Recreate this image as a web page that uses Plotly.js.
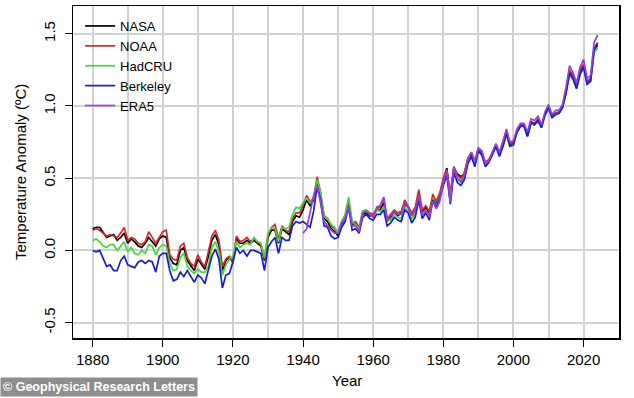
<!DOCTYPE html>
<html><head><meta charset="utf-8">
<script src="https://cdn.plot.ly/plotly-3.0.1.min.js"></script>
<style>html,body{margin:0;padding:0;background:#fff}#chart{width:634px;height:398px}</style>
</head><body><div id="chart"></div>
<script>
const startYear = 1880;
const era5StartYear = 1940;

const nasa = [
 0.15,0.16,0.16,0.12,0.09,0.10,0.11,0.07,0.09,0.12,
 0.05,0.08,0.06,0.03,0.02,0.05,0.09,0.06,0.03,0.08,
 0.10,0.09,-0.05,-0.09,-0.10,0.00,0.02,-0.07,-0.11,-0.14,
 -0.06,-0.10,-0.13,-0.04,0.07,0.11,0.04,-0.14,-0.07,-0.05,
 -0.08,0.08,0.05,0.05,0.07,0.05,0.07,0.05,0.03,-0.07,
 0.09,0.14,0.14,0.05,0.15,0.13,0.11,0.20,0.24,0.23,
 0.28,0.35,0.31,0.35,0.48,0.37,0.22,0.20,0.15,0.13,
 0.10,0.18,0.23,0.33,0.18,0.19,0.15,0.25,0.26,0.24,
 0.24,0.28,0.28,0.33,0.21,0.23,0.27,0.24,0.26,0.32,
 0.30,0.24,0.28,0.38,0.27,0.30,0.26,0.36,0.32,0.38,
 0.49,0.57,0.35,0.57,0.53,0.51,0.53,0.63,0.67,0.61,
 0.70,0.67,0.60,0.62,0.67,0.72,0.67,0.73,0.81,0.73,
 0.75,0.82,0.86,0.86,0.79,0.88,0.87,0.91,0.86,0.94,
 0.99,0.93,0.95,0.95,0.99,1.10,1.24,1.21,1.13,1.24,
 1.28,1.16,1.18,1.39,1.42
];

const noaa = [
 0.14,0.15,0.14,0.12,0.10,0.11,0.10,0.09,0.12,0.16,
 0.07,0.09,0.08,0.05,0.04,0.06,0.13,0.09,0.05,0.09,
 0.13,0.14,-0.03,-0.06,-0.07,0.03,0.05,-0.05,-0.09,-0.11,
 -0.03,-0.08,-0.11,-0.01,0.10,0.14,0.07,-0.11,-0.06,-0.04,
 -0.09,0.10,0.06,0.07,0.09,0.06,0.08,0.06,0.04,-0.06,
 0.10,0.16,0.18,0.08,0.17,0.14,0.13,0.22,0.26,0.26,
 0.31,0.38,0.34,0.36,0.51,0.40,0.24,0.22,0.17,0.15,
 0.12,0.20,0.24,0.33,0.19,0.20,0.16,0.27,0.28,0.26,
 0.25,0.29,0.30,0.36,0.22,0.25,0.28,0.26,0.27,0.35,
 0.31,0.26,0.30,0.42,0.28,0.31,0.27,0.39,0.34,0.40,
 0.50,0.56,0.40,0.58,0.52,0.50,0.54,0.64,0.68,0.62,
 0.71,0.68,0.61,0.63,0.68,0.73,0.68,0.75,0.83,0.74,
 0.75,0.83,0.87,0.87,0.81,0.89,0.88,0.91,0.86,0.94,
 0.99,0.92,0.95,0.96,1.00,1.11,1.25,1.21,1.14,1.25,
 1.29,1.17,1.19,1.40,1.44
];

const hadcru = [
 0.07,0.08,0.06,0.03,0.02,0.04,0.04,0.00,0.03,0.06,
 -0.01,0.02,-0.02,-0.03,0.00,-0.02,0.04,0.03,-0.03,0.02,
 0.04,0.03,-0.09,-0.14,-0.13,-0.05,-0.02,-0.11,-0.14,-0.16,
 -0.13,-0.15,-0.15,-0.11,0.02,0.06,-0.01,-0.17,-0.10,-0.06,
 -0.04,0.06,0.02,0.04,0.05,0.04,0.09,0.06,0.05,-0.05,
 0.12,0.16,0.15,0.06,0.16,0.15,0.16,0.25,0.30,0.29,
 0.33,0.36,0.33,0.36,0.49,0.40,0.24,0.22,0.18,0.16,
 0.12,0.20,0.25,0.37,0.20,0.18,0.15,0.27,0.28,0.25,
 0.23,0.28,0.27,0.30,0.20,0.21,0.25,0.23,0.22,0.30,
 0.27,0.22,0.25,0.36,0.24,0.27,0.23,0.36,0.31,0.37,
 0.46,0.52,0.37,0.53,0.49,0.47,0.50,0.61,0.65,0.60,
 0.69,0.66,0.59,0.61,0.66,0.72,0.66,0.72,0.80,0.72,
 0.73,0.82,0.86,0.86,0.80,0.88,0.87,0.89,0.85,0.93,
 0.98,0.92,0.94,0.95,0.99,1.09,1.22,1.18,1.12,1.22,
 1.26,1.15,1.17,1.37,1.40
];

const berkeley = [
 0.00,-0.01,0.00,-0.05,-0.11,-0.10,-0.14,-0.14,-0.07,-0.04,
 -0.10,-0.11,-0.12,-0.08,-0.07,-0.09,-0.07,-0.08,-0.15,-0.04,
 -0.02,-0.02,-0.14,-0.21,-0.20,-0.15,-0.18,-0.14,-0.18,-0.22,
 -0.17,-0.19,-0.23,-0.14,-0.04,0.01,-0.06,-0.26,-0.17,-0.16,
 -0.08,0.02,-0.02,0.00,-0.04,0.00,0.00,-0.01,-0.02,-0.14,
 0.02,0.06,0.09,-0.02,0.09,0.07,0.07,0.17,0.20,0.19,
 0.20,0.18,0.16,0.27,0.44,0.35,0.17,0.16,0.10,0.08,
 0.09,0.16,0.20,0.30,0.14,0.15,0.12,0.23,0.25,0.22,
 0.21,0.25,0.25,0.28,0.17,0.19,0.23,0.21,0.20,0.28,
 0.26,0.19,0.23,0.35,0.22,0.26,0.21,0.35,0.30,0.36,
 0.45,0.52,0.32,0.54,0.47,0.45,0.49,0.60,0.65,0.58,
 0.69,0.66,0.58,0.61,0.66,0.72,0.65,0.72,0.81,0.72,
 0.73,0.82,0.86,0.86,0.79,0.89,0.87,0.90,0.85,0.94,
 0.99,0.92,0.94,0.95,0.99,1.09,1.23,1.19,1.12,1.22,
 1.27,1.15,1.17,1.39,1.43
];

const era5 = [
 0.12,0.15,0.26,0.38,0.45,0.33,0.20,0.17,0.14,0.12,
 0.12,0.19,0.22,0.31,0.17,0.17,0.13,0.26,0.27,0.25,
 0.23,0.30,0.31,0.37,0.21,0.24,0.27,0.25,0.25,0.33,
 0.30,0.24,0.28,0.38,0.25,0.28,0.23,0.34,0.29,0.34,
 0.47,0.55,0.33,0.58,0.50,0.48,0.52,0.63,0.68,0.62,
 0.71,0.69,0.60,0.62,0.68,0.74,0.68,0.75,0.84,0.75,
 0.76,0.84,0.88,0.88,0.82,0.91,0.90,0.93,0.87,0.96,
 1.01,0.94,0.97,0.97,1.01,1.13,1.28,1.23,1.16,1.27,
 1.32,1.19,1.21,1.44,1.49
];

const seriesNames = ["NASA","NOAA","HadCRU","Berkeley","ERA5"];
const seriesColors = ["#000000","#d42828","#3cd83c","#1c1cc8","#9a3be0"];
const xTickVals = [1880,1900,1920,1940,1960,1980,2000,2020];
const yTickVals = [-0.5,0,0.5,1,1.5];
const yTickText = ["-0.5","0.0","0.5","1.0","1.5"];

const years = nasa.map((_, i) => startYear + i);
const era5Years = era5.map((_, i) => era5StartYear + i);
const allValues = [nasa, noaa, hadcru, berkeley, era5];
const allYears = [years, years, years, years, era5Years];

const traces = allValues.map((vals, k) => ({
  type: 'scatter', mode: 'lines', name: seriesNames[k],
  x: allYears[k], y: vals,
  line: {color: seriesColors[k], width: 1.7}
}));

const grid = '#d2d2d2';
const layout = {
  width: 634, height: 398,
  margin: {l: 73, r: 15, t: 6, b: 60},
  paper_bgcolor: '#ffffff', plot_bgcolor: '#ffffff',
  font: {family: 'Liberation Sans, Arial, sans-serif', size: 15, color: '#000'},
  showlegend: true,
  legend: {x: 0.013, y: 0.985, xanchor: 'left', yanchor: 'top', bgcolor: 'rgba(0,0,0,0)',
           font: {size: 13}},
  xaxis: {range: [1874.4, 2030.1], tickmode: 'array', tickvals: xTickVals,
          ticks: 'outside', ticklen: 7, tickwidth: 1, tickcolor: '#000',
          showgrid: true, gridcolor: grid, gridwidth: 2,
          minor: {dtick: 10, tick0: 1880, showgrid: true, gridcolor: grid, gridwidth: 2},
          showline: true, mirror: true, linecolor: '#000', linewidth: 1.5, zeroline: false},
  yaxis: {range: [-0.606, 1.692], tickmode: 'array', tickvals: yTickVals, ticktext: yTickText,
          tickangle: -90, ticks: 'outside', ticklen: 7, tickwidth: 1, tickcolor: '#000',
          ticklabelstandoff: 4,
          showgrid: true, gridcolor: grid, gridwidth: 2,
          showline: true, mirror: true, linecolor: '#000', linewidth: 1.5, zeroline: false},
  annotations: [
    {text: 'Year', xref: 'paper', yref: 'paper', x: 0.502, y: -0.1295,
     xanchor: 'center', yanchor: 'middle', showarrow: false, font: {size: 15}},
    {text: 'Temperature Anomaly (ºC)', xref: 'paper', yref: 'paper', x: -0.097, y: 0.5,
     textangle: -90, xanchor: 'center', yanchor: 'middle', showarrow: false, font: {size: 15}},
    {text: '<b>© Geophysical Research Letters</b>', xref: 'paper', yref: 'paper',
     x: -0.1337, y: -0.1777, xanchor: 'left', yanchor: 'bottom', showarrow: false,
     bgcolor: '#8e8e8e', borderpad: 2, font: {size: 12.5, color: '#ffffff'}}
  ]
};

Plotly.newPlot('chart', traces, layout, {displayModeBar: false, staticPlot: true});
</script>
</body></html>
